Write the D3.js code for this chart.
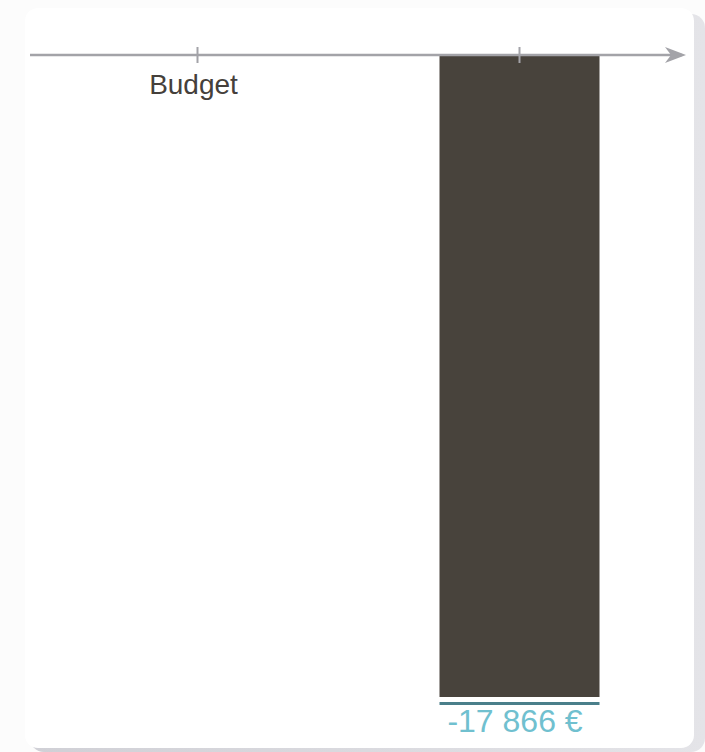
<!DOCTYPE html>
<html>
<head>
<meta charset="utf-8">
<script src="https://cdn.jsdelivr.net/npm/d3@7"></script>
<style>
  html, body { margin: 0; padding: 0; background: #fcfcfc; }
  svg { display: block; }
</style>
</head>
<body>
<svg id="chart" width="705" height="752"></svg>
<script>
const categories = ["Budget", ""];
const values = [0, -17866];
const valueLabels = ["", "-17 866 €"];

const svg = d3.select("#chart");
const W = 705, H = 752;

const defs = svg.append("defs");
const grad = defs.append("linearGradient").attr("id", "shadowGrad").attr("x1", 0).attr("x2", 1);
grad.append("stop").attr("offset", "0%").attr("stop-color", "#d0d0d6");
grad.append("stop").attr("offset", "100%").attr("stop-color", "#e4e4e8");

svg.append("rect").attr("x", 0).attr("y", 0).attr("width", W).attr("height", H).attr("fill", "#fcfcfc");
svg.append("rect").attr("x", 30).attr("y", 14).attr("width", 675).attr("height", 738)
  .attr("rx", 14).attr("fill", "url(#shadowGrad)");
svg.append("rect").attr("x", 25).attr("y", 8).attr("width", 669).attr("height", 740)
  .attr("rx", 13).attr("fill", "#ffffff");

const x = d3.scalePoint().domain(categories).range([36, 680]).padding(0.5);
const barWidth = 160;
const y = d3.scaleLinear().domain([0, -17866]).range([56, 697]);

svg.selectAll("rect.bar")
  .data(categories.map((c, i) => ({ c, v: values[i] })).filter(d => d.v !== 0))
  .enter().append("rect")
  .attr("class", "bar")
  .attr("x", d => x(d.c) - barWidth / 2 + 0.5)
  .attr("width", barWidth)
  .attr("y", d => Math.min(y(0), y(d.v)))
  .attr("height", d => Math.abs(y(d.v) - y(0)))
  .attr("fill", "#48433c");

const labelled = categories.map((c, i) => ({ c, v: values[i], t: valueLabels[i] })).filter(d => d.t);
svg.selectAll("rect.under")
  .data(labelled).enter().append("rect")
  .attr("x", d => x(d.c) - barWidth / 2 + 0.5)
  .attr("width", barWidth)
  .attr("y", d => y(d.v) + 5)
  .attr("height", 3)
  .attr("fill", "#4a7f8a");
svg.selectAll("text.val")
  .data(labelled).enter().append("text")
  .attr("x", d => x(d.c) - 4)
  .attr("y", d => y(d.v) + 35)
  .attr("text-anchor", "middle")
  .attr("font-family", "Liberation Sans, Arial, sans-serif")
  .attr("font-size", 32)
  .attr("fill", "#70c0cf")
  .text(d => d.t);

const axisG = svg.append("g").attr("transform", `translate(0,${y(0) - 1})`);
const axis = d3.axisBottom(x).tickSize(0).tickPadding(31);
axisG.call(axis);
axisG.select(".domain").remove();
axisG.selectAll(".tick line").remove();
axisG.selectAll(".tick text")
  .attr("font-family", "Liberation Sans, Arial, sans-serif")
  .attr("font-size", 28)
  .attr("fill", "#45403b")
  .attr("dy", "0.3em")
  .attr("dx", -4);

axisG.append("line").attr("x1", 30).attr("x2", 682).attr("y1", 0).attr("y2", 0)
  .attr("stroke", "#a3a3a8").attr("stroke-width", 2.5);
axisG.append("path").attr("d", "M665,-8 L686,0 L665,8 L671,0 Z").attr("fill", "#a3a3a8");
axisG.selectAll("line.tk").data(categories).enter().append("line")
  .attr("class", "tk")
  .attr("x1", d => x(d) + 0.5).attr("x2", d => x(d) + 0.5)
  .attr("y1", -8).attr("y2", 8)
  .attr("stroke", "#a3a3a8").attr("stroke-width", 2);
</script>
</body>
</html>
